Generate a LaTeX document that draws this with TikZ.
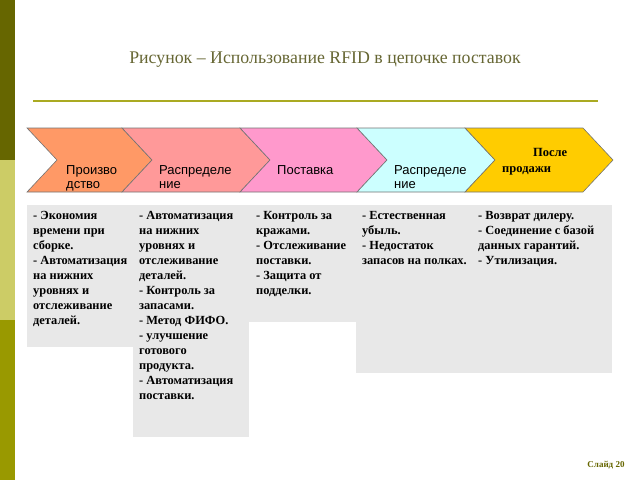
\documentclass[tikz,border=0pt]{standalone}
\usepackage{fontspec}
\setmainfont{Liberation Serif}
\setsansfont{Liberation Sans}
\usepackage{tikz}
\usetikzlibrary{positioning}
\definecolor{barTop}{HTML}{666600}
\definecolor{barMid}{HTML}{CCCC66}
\definecolor{barLow}{HTML}{999900}
\definecolor{titleCol}{HTML}{666633}
\definecolor{ruleCol}{HTML}{AAAA22}
\definecolor{prodCol}{HTML}{FF9966}
\definecolor{distCol}{HTML}{FF9999}
\definecolor{shipCol}{HTML}{FF99CC}
\definecolor{shopCol}{HTML}{CCFFFF}
\definecolor{postCol}{HTML}{FFCC00}
\definecolor{paper}{HTML}{E8E8E8}

\begin{document}
\begin{tikzpicture}[x=1pt, y=-1pt,
    chev/.style={draw=black!55, line width=0.6pt},
    stage/.style={font=\sffamily\fontsize{13}{14}\selectfont, align=left,
                  anchor=north west, inner sep=0pt},
    panel/.style={fill=paper, draw=none},
    notes/.style={font=\bfseries\fontsize{12.4}{15}\selectfont, align=left,
                  anchor=north west, inner sep=0pt}
  ]
    \useasboundingbox (0,0) rectangle (640,480);

    % Side bar
    \fill[barTop] (0,0) rectangle (15,160);
    \fill[barMid] (0,160) rectangle (15,320);
    \fill[barLow] (0,320) rectangle (15,480);

    % Title
    \node[font=\fontsize{17.8}{20}\selectfont, text=titleCol] (title) at (325,60)
      {Рисунок – Использование RFID в цепочке поставок};
    \draw[ruleCol, line width=1.6pt] (33,101) -- (598,101);

    % Chain of stages
    \filldraw[chev, fill=prodCol] (27,128) -- (122,128) -- (152,160) -- (122,192) -- (27,192) -- (57,160) -- cycle;
    \filldraw[chev, fill=distCol] (122,128) -- (240,128) -- (270,160) -- (240,192) -- (122,192) -- (152,160) -- cycle;
    \filldraw[chev, fill=shipCol] (240,128) -- (357,128) -- (387,160) -- (357,192) -- (240,192) -- (270,160) -- cycle;
    \filldraw[chev, fill=shopCol] (357,128) -- (465,128) -- (495,160) -- (465,192) -- (357,192) -- (387,160) -- cycle;
    \filldraw[chev, fill=postCol] (465,128) -- (583,128) -- (613,160) -- (583,192) -- (465,192) -- (495,160) -- cycle;

    \node[stage] (prod) at (66,165) {Произво\\дство};
    \node[stage] (dist) at (159,165) {Распределе\\ние};
    \node[stage] (ship) at (277,165) {Поставка};
    \node[stage] (shop) at (394,165) {Распределе\\ние};
    \node[stage, font=\bfseries\fontsize{12.5}{16}\selectfont] (post) at (502,148)
      {\hspace*{31pt}После\\продажи};

    % Notes under the stages
    \fill[panel] (27,205) rectangle (133,347);
    \fill[panel] (133,205) rectangle (249,437);
    \fill[panel] (249,205) rectangle (356,322);
    \fill[panel] (356,205) rectangle (470,373);
    \fill[panel] (470,205) rectangle (612,373);

    \node[notes] (prodNote) at (33,211) {- Экономия\\времени при\\сборке.\\- Автоматизация\\на нижних\\уровнях и\\отслеживание\\деталей.};
    \node[notes] (distNote) at (139,211) {- Автоматизация\\на нижних\\уровнях и\\отслеживание\\деталей.\\- Контроль за\\запасами.\\- Метод ФИФО.\\- улучшение\\готового\\продукта.\\- Автоматизация\\поставки.};
    \node[notes] (shipNote) at (256,211) {- Контроль за\\кражами.\\- Отслеживание\\поставки.\\- Защита от\\подделки.};
    \node[notes] (shopNote) at (362,211) {- Естественная\\убыль.\\- Недостаток\\запасов на полках.};
    \node[notes] (postNote) at (478,211) {- Возврат дилеру.\\- Соединение с базой\\данных гарантий.\\- Утилизация.};

    % Slide number
    \node[font=\bfseries\fontsize{9}{11}\selectfont, text=barTop] (slide) at (606,465) {Слайд 20};
  \end{tikzpicture}
\end{document}
